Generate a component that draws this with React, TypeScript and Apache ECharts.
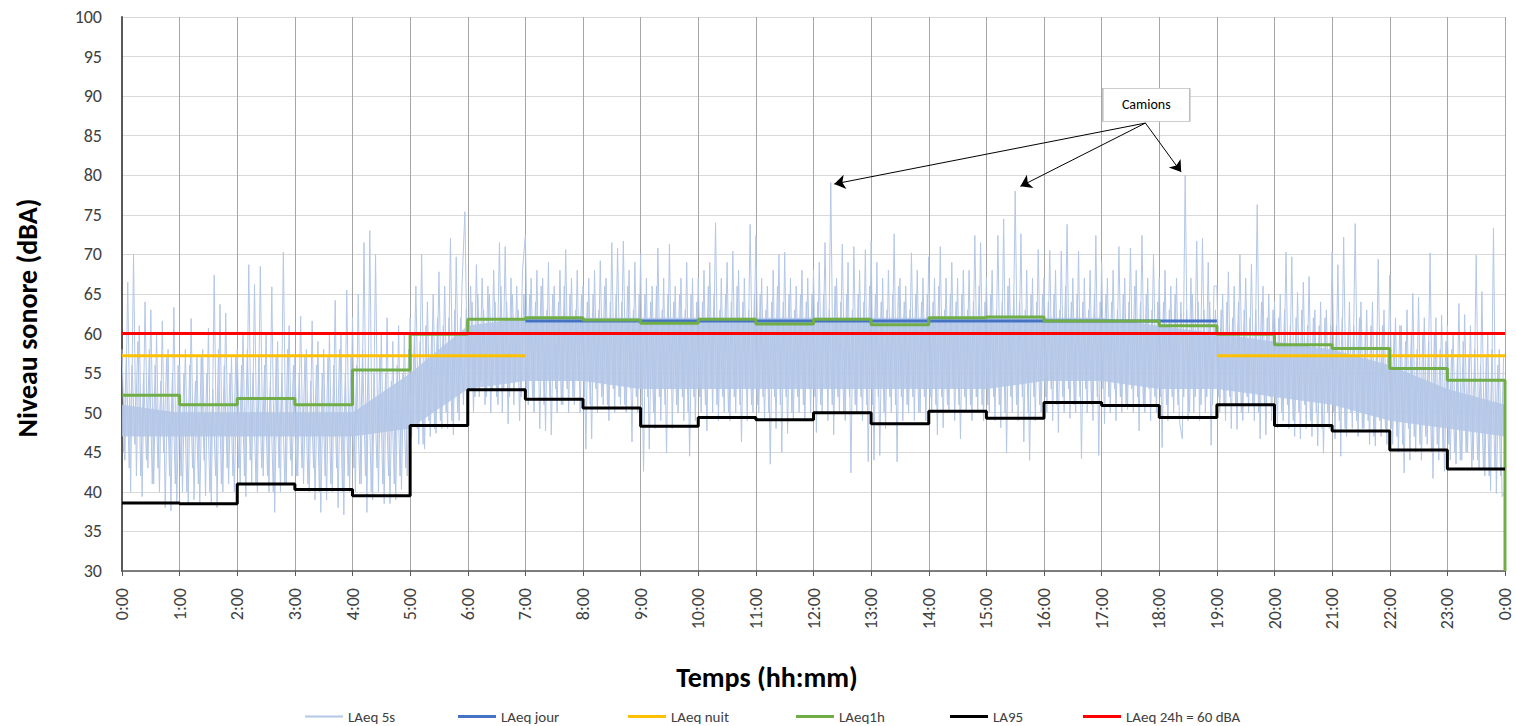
import React, { useEffect, useRef } from 'react';
import * as echarts from 'echarts';

const FONT = 'Carlito, Calibri, "Liberation Sans", Arial, sans-serif';

// Hourly step series (value for each hour 0..23)
const laeq1h = [52.2, 51.0, 51.8, 51.0, 55.4, 59.9, 61.8, 62.0, 61.7, 61.3, 61.8, 61.2, 61.8, 61.1, 62.0, 62.1, 61.6, 61.6, 61.0, 59.9, 58.6, 58.1, 55.6, 54.1];
const la95 = [38.6, 38.5, 41.0, 40.3, 39.5, 48.4, 52.9, 51.7, 50.6, 48.3, 49.4, 49.1, 50.0, 48.6, 50.2, 49.3, 51.3, 50.9, 49.4, 51.0, 48.4, 47.7, 45.3, 42.9];
const laeq1hEnd = 30;

const laeqJour = 61.6;
const jourPeriod = [7, 19];
const laeqNuit = 57.2;
const nuitPeriods = [[0, 7], [19, 24]];
const laeq24h = 60;

// LAeq 5s: extreme samples read every 3 minutes (20 per hour)
const noisePeaksByHour: number[][] = [
  [58, 44, 66.5, 40, 70, 42, 61, 39.4, 64, 43, 63, 41, 60, 40, 61.6, 38, 58, 37.6, 63.3, 38.5],
  [56, 40, 58, 38.5, 61.9, 39, 57, 38.5, 58, 39.5, 60.7, 38.5, 67.4, 38, 63.7, 40, 62.6, 41, 57, 40],
  [58, 41, 60, 39.4, 68.7, 41, 66.2, 40, 68.5, 42, 60, 40, 65.9, 37.4, 59, 40, 70.3, 41, 61, 42],
  [57, 42, 62.2, 41, 58, 40, 61.6, 39, 59, 37.4, 58, 39, 60, 40, 64.2, 38, 60, 37.1, 65.5, 40],
  [62, 40, 65, 41, 71.5, 37.4, 73, 39, 70, 40, 60, 38.5, 62, 38.5, 59, 39, 61, 40.3, 60, 42],
  [62, 48.6, 66, 46, 70, 45.4, 64, 47, 65, 47.4, 67.8, 48, 66, 48, 72, 47.2, 69.7, 49, 66, 75.4],
  [52, 66, 50, 68.7, 52, 67, 51, 66, 50, 68, 52, 71.5, 50, 71, 48.6, 67, 51, 66, 49, 68],
  [72.4, 51, 67, 50, 68, 48, 67, 47.7, 69, 47.2, 66, 50, 68, 51, 70.6, 50, 67, 51, 68, 50],
  [66, 45.4, 67, 46.7, 68, 50, 69.2, 51, 67, 49, 71.5, 50, 70.8, 51, 71.7, 50, 68, 46.3, 69, 50],
  [70, 42.6, 67, 45.4, 66, 48, 70.8, 49, 67, 44.9, 71.3, 48, 66, 50, 67, 49, 69, 44.5, 67, 49],
  [67, 50, 68, 47.7, 69, 50, 74, 49, 67, 50, 69, 49, 70.4, 50, 68, 46.3, 67, 49, 73.8, 50],
  [72.4, 50, 67, 49, 66, 43.5, 68, 48, 70, 45, 70.3, 47.4, 67, 49, 66, 50, 68, 49, 67, 50],
  [68, 47.5, 69, 50, 71.5, 49, 79.1, 47.2, 67, 50, 71.3, 49, 69, 42.4, 71, 50, 68, 49, 70.6, 43.8],
  [71.7, 44, 69, 44.6, 67, 48, 68, 50, 72.6, 43.8, 67, 49, 66, 50, 70.2, 49, 68, 50, 67, 49],
  [69.7, 50, 67, 47.2, 71, 48.1, 67, 50, 69, 49, 67, 46.7, 68, 50, 68, 49, 72.4, 50, 71.5, 49],
  [67, 50, 68, 49, 72.4, 48.1, 74.5, 44.9, 67, 50, 78, 49, 72.6, 46.3, 68, 44, 67, 49, 70.6, 50],
  [67, 50, 70.5, 49, 68, 47.5, 70.4, 50, 73.8, 49.3, 67, 50, 70.4, 44.2, 67, 50, 68, 49, 72.4, 44.6],
  [69, 48.6, 67, 50, 68, 49, 71, 50, 67, 50.4, 70.8, 50, 68, 47.7, 72.4, 50, 67, 49, 70, 50],
  [67, 45.6, 68, 49, 66, 50, 67, 49, 46.7, 80, 49, 67, 50, 71.7, 49, 72, 50, 69, 45.9, 66],
  [66, 50, 65, 49, 67.8, 48, 66, 47.9, 70, 49, 67, 50, 68.8, 49, 76.3, 46.7, 66, 47.2, 65, 49],
  [64, 48.1, 65, 49, 70.3, 48, 69.7, 47, 65.2, 46.7, 66.5, 48, 67.2, 47, 63, 45.8, 64, 44.9, 63, 48],
  [70.3, 46.7, 68.7, 44.5, 72.2, 47, 64, 48, 73.9, 47, 64, 48, 63, 46, 64, 45.8, 69.4, 47, 63, 46],
  [67.4, 46, 62, 45, 61, 42.4, 63, 44, 65.1, 45, 64.6, 44, 62, 46, 70.2, 41.7, 62, 44, 62.3, 42.6],
  [61, 44, 60, 43.5, 63.8, 44, 62.4, 45, 61, 44, 69.9, 43, 65.3, 42, 60, 40.1, 73.3, 39.8, 58, 39.4],
];
const noiseEnd = 40;

// LAeq 5s: inner (dense core) samples, 3 minutes apart, offset by 1.5 minutes
const noiseCoreByHour: number[][] = [
  [45, 57, 43, 56, 46, 59, 42, 55, 44, 58, 41, 56, 43, 54, 45, 57, 42, 55, 41, 56],
  [42, 55, 40, 56, 43, 54, 41, 57, 44, 55, 40, 53, 42, 58, 41, 56, 43, 55, 42, 57],
  [43, 56, 42, 58, 44, 55, 41, 57, 43, 56, 42, 54, 40, 57, 43, 55, 41, 58, 44, 56],
  [42, 55, 43, 57, 41, 54, 43, 56, 40, 55, 42, 57, 41, 56, 43, 58, 40, 55, 42, 57],
  [43, 56, 41, 58, 42, 57, 40, 55, 43, 57, 41, 55, 42, 54, 41, 56, 42, 55, 43, 58],
  [47, 60, 48, 59, 46, 61, 49, 60, 48, 62, 49, 61, 50, 62, 49, 63, 50, 62, 51, 63],
  [53, 64, 52, 65, 54, 63, 52, 65, 53, 64, 51, 66, 53, 64, 52, 65, 54, 63, 52, 65],
  [53, 65, 52, 64, 54, 66, 51, 63, 52, 65, 53, 64, 51, 66, 53, 65, 52, 63, 54, 65],
  [52, 64, 51, 65, 53, 63, 52, 66, 51, 64, 53, 65, 52, 64, 51, 66, 53, 63, 52, 65],
  [51, 65, 52, 64, 50, 66, 52, 63, 51, 65, 53, 64, 51, 65, 52, 63, 50, 65, 52, 64],
  [52, 64, 51, 66, 53, 65, 51, 63, 52, 65, 50, 64, 52, 66, 51, 64, 53, 63, 51, 65],
  [51, 65, 52, 63, 50, 64, 52, 66, 51, 64, 52, 65, 50, 63, 52, 65, 51, 64, 53, 65],
  [52, 64, 51, 65, 53, 63, 51, 66, 52, 64, 50, 65, 52, 63, 51, 65, 52, 64, 51, 66],
  [51, 65, 52, 64, 50, 63, 52, 65, 51, 66, 52, 64, 51, 63, 52, 65, 50, 64, 52, 65],
  [52, 64, 51, 66, 52, 63, 51, 65, 53, 64, 51, 65, 52, 63, 51, 64, 52, 66, 51, 64],
  [51, 65, 52, 63, 51, 64, 50, 66, 52, 65, 51, 64, 52, 63, 50, 65, 52, 64, 51, 65],
  [52, 64, 53, 65, 51, 63, 52, 66, 53, 64, 51, 65, 52, 64, 53, 63, 51, 65, 52, 64],
  [53, 65, 52, 64, 53, 63, 52, 65, 51, 64, 53, 66, 52, 64, 51, 65, 53, 63, 52, 64],
  [52, 64, 51, 63, 52, 65, 51, 64, 52, 63, 50, 65, 52, 64, 51, 63, 52, 64, 51, 63],
  [52, 63, 51, 64, 52, 62, 51, 64, 50, 63, 52, 62, 51, 63, 50, 64, 51, 62, 52, 63],
  [51, 62, 50, 63, 51, 61, 49, 62, 50, 63, 51, 61, 49, 62, 50, 61, 48, 62, 50, 61],
  [50, 61, 49, 62, 48, 60, 50, 61, 49, 62, 48, 60, 49, 61, 47, 60, 49, 61, 48, 60],
  [48, 60, 47, 61, 46, 59, 48, 60, 47, 58, 46, 60, 47, 59, 45, 60, 46, 58, 45, 59],
  [46, 58, 45, 57, 44, 59, 45, 57, 43, 58, 44, 56, 43, 57, 42, 58, 43, 56, 42, 57],
];
const noiseStepHours = 0.05; // 3 minutes
const noiseCoreOffsetHours = 0.025;

// most dense part of the 5s signal at each hour 0..24
const coreLow = [47, 47, 47, 47, 47, 48, 53, 54, 54, 53, 53, 53, 53, 53, 53, 53, 54, 54, 53, 53, 52, 51, 49, 48, 47];
const coreHigh = [51, 50, 50, 50, 50, 55, 61, 62, 62, 62, 62, 62, 62, 62, 62, 62, 62, 62, 61, 60, 59, 58, 56, 53, 51];

// annotation
const camionsLabel = 'Camions';
const camionsBox = [17.775, 88.9];
const camionsOrigin = [17.76, 86.6];
const camionsTargets = [[12.36, 78.9], [15.59, 78.6], [18.38, 80.4]];

const legendNames = ['LAeq 5s', 'LAeq jour', 'LAeq nuit', 'LAeq1h', 'LA95', 'LAeq 24h = 60 dBA'];
const legendLefts = [300, 453, 623, 791, 945, 1078];

const C5s = '#b4c7e7';

function stepData(vals: number[], end?: number) {
  const d: any[] = vals.map((v, i) => [i, v]);
  d.push([vals.length, vals[vals.length - 1]]);
  if (end !== undefined) d.push([vals.length, end]);
  return d;
}

export default function App() {
  const ref = useRef<HTMLDivElement>(null);
  useEffect(() => {
    document.body.style.margin = '0';
    const chart = echarts.init(ref.current!, null, { renderer: 'svg' });

    const peakData: any[] = noisePeaksByHour.flat().map((v, i) => [i * noiseStepHours, v]);
    peakData.push([24, noiseEnd]);
    const coreData: any[] = noiseCoreByHour.flat().map((v, i) => [i * noiseStepHours + noiseCoreOffsetHours, v]);

    const nuitData: any[] = [];
    nuitPeriods.forEach((p, k) => {
      if (k > 0) nuitData.push([p[0], '-']);
      nuitData.push([p[0], laeqNuit], [p[1], laeqNuit]);
    });

    const option: any = {
      animation: false,
      grid: { left: 122, right: 11, top: 17, bottom: 155 },
      xAxis: {
        type: 'value', min: 0, max: 24, interval: 1,
        axisLine: { show: true, onZero: false, lineStyle: { color: '#595959', width: 1.5 } },
        axisTick: { show: true, length: 5, lineStyle: { color: '#595959' } },
        axisLabel: {
          rotate: 90, margin: 17, fontSize: 18, lineHeight: 13, color: '#404040', fontFamily: FONT,
          formatter: (v: number) => `${v % 24}:00`,
        },
        splitLine: { show: true, lineStyle: { color: '#a6a6a6', width: 1 } },
      },
      yAxis: {
        type: 'value', min: 30, max: 100, interval: 5,
        axisLine: { show: true, lineStyle: { color: '#595959', width: 2 } },
        axisTick: { show: false },
        axisLabel: { fontSize: 18, color: '#404040', margin: 20, fontFamily: FONT },
        splitLine: { show: true, lineStyle: { color: '#d9d9d9', width: 1 } },
      },
      legend: legendNames.map((name, i) => ({
        data: [name], left: legendLefts[i], top: 704, itemWidth: 38, itemHeight: i === 0 ? 2 : 3,
        icon: 'rect', itemGap: 5, selectedMode: false,
        textStyle: { fontSize: 15, color: '#404040', fontFamily: FONT },
      })),
      graphic: [
        {
          type: 'text', x: 767, y: 677,
          style: { text: 'Temps (hh:mm)', textAlign: 'center', textVerticalAlign: 'middle', font: `bold 28px ${FONT}`, fill: '#000' },
        },
        {
          type: 'text', x: 27, y: 318, rotation: Math.PI / 2,
          style: { text: 'Niveau sonore (dBA)', textAlign: 'center', textVerticalAlign: 'middle', font: `bold 28px ${FONT}`, fill: '#000' },
        },
      ],
      series: [
        {
          type: 'custom', name: 'core', silent: true, z: 1,
          data: [[0, coreLow[0]]],
          renderItem: (_p: any, api: any) => {
            const top = coreHigh.map((v, i) => api.coord([i, v]));
            const bot = coreLow.map((v, i) => api.coord([i, v])).reverse();
            return { type: 'polygon', shape: { points: top.concat(bot) }, style: { fill: C5s, opacity: 0.85 } };
          },
        },
        {
          type: 'line', name: 'LAeq 5s', data: coreData, symbol: 'none', showSymbol: false, silent: true, z: 2,
          lineStyle: { color: C5s, width: 1 }, itemStyle: { color: C5s },
        },
        {
          type: 'line', name: 'LAeq 5s', data: peakData, symbol: 'none', showSymbol: false, silent: true, z: 2,
          lineStyle: { color: C5s, width: 1 }, itemStyle: { color: C5s },
          markLine: {
            silent: true, symbol: ['none', 'arrow'], symbolSize: 11,
            lineStyle: { color: '#000', width: 1, type: 'solid' },
            itemStyle: { color: '#000' },
            label: { show: false },
            data: camionsTargets.map((t) => [{ coord: camionsOrigin }, { coord: t }]),
          },
          markPoint: {
            silent: true,
            data: [{
              coord: camionsBox, symbol: 'rect', symbolSize: [87, 33],
              itemStyle: { color: '#fff', borderColor: '#bfbfbf', borderWidth: 1 },
              label: { show: true, position: 'inside', formatter: camionsLabel, color: '#000', fontSize: 14, fontFamily: FONT },
            }],
          },
        },
        {
          type: 'line', name: 'LAeq jour', data: [[jourPeriod[0], laeqJour], [jourPeriod[1], laeqJour]],
          symbol: 'none', silent: true, z: 3, lineStyle: { color: '#4472c4', width: 3 }, itemStyle: { color: '#4472c4' },
        },
        {
          type: 'line', name: 'LAeq nuit', data: nuitData, connectNulls: false,
          symbol: 'none', silent: true, z: 3, lineStyle: { color: '#ffc000', width: 3 }, itemStyle: { color: '#ffc000' },
        },
        {
          type: 'line', name: 'LAeq1h', data: stepData(laeq1h, laeq1hEnd), step: 'end',
          symbol: 'none', silent: true, z: 3, lineStyle: { color: '#70ad47', width: 3 }, itemStyle: { color: '#70ad47' },
        },
        {
          type: 'line', name: 'LA95', data: stepData(la95), step: 'end',
          symbol: 'none', silent: true, z: 3, lineStyle: { color: '#000000', width: 3 }, itemStyle: { color: '#000000' },
        },
        {
          type: 'line', name: 'LAeq 24h = 60 dBA', data: [[0, laeq24h], [24, laeq24h]],
          symbol: 'none', silent: true, z: 3, lineStyle: { color: '#ff0000', width: 3 }, itemStyle: { color: '#ff0000' },
        },
      ],
    };
    chart.setOption(option);
    return () => chart.dispose();
  }, []);
  return <div ref={ref} style={{ width: 1516, height: 726 }} />;
}
